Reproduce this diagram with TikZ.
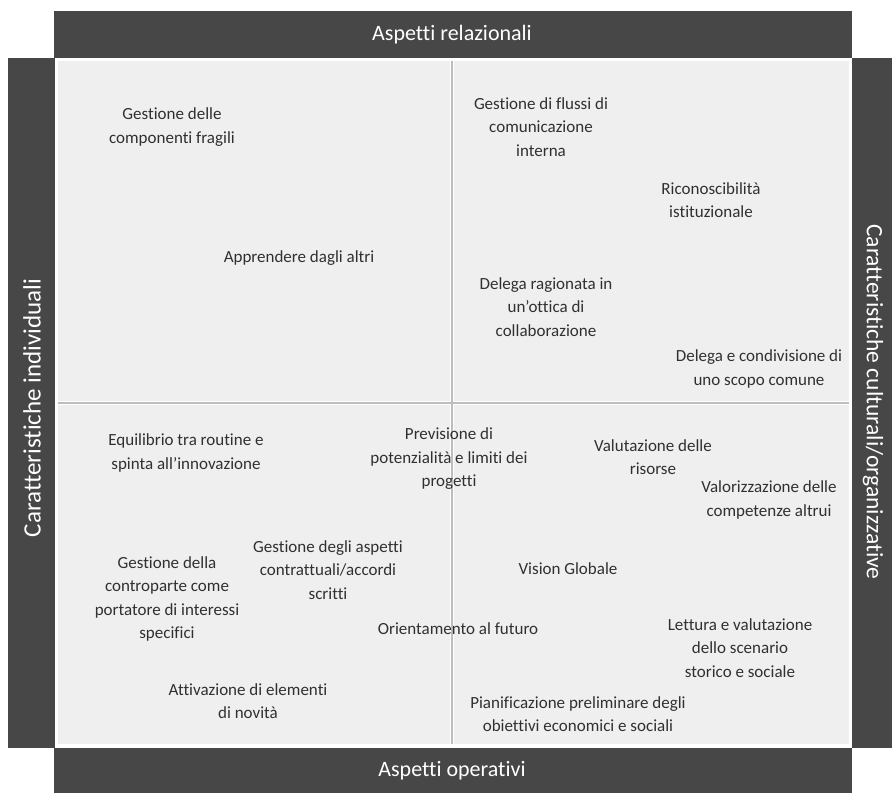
\documentclass[tikz,border=0pt]{standalone}
\usepackage{fontspec}
\setmainfont{Carlito}[Ligatures={TeX,NoCommon}]
\definecolor{barc}{HTML}{474747}
\definecolor{panelc}{HTML}{EFEFEF}
\definecolor{linec}{HTML}{BDBDBD}
\definecolor{txtc}{HTML}{303030}
\begin{document}
\begin{tikzpicture}[x=1pt,y=-1pt,
  bar/.style={fill=barc,draw=none},
  hdr/.style={text=white,font=\fontsize{22}{26}\selectfont,inner sep=0pt},
  lbl/.style={text=txtc,align=center,font=\fontsize{17}{23.5}\selectfont,inner sep=0pt}]
\useasboundingbox[fill=white] (0,0) rectangle (892,793);
% bars
\fill[bar] (54,11) rectangle (852,58);
\fill[bar] (8,58) rectangle (55,748);
\fill[bar] (852,58) rectangle (892,748);
\fill[bar] (54,748) rectangle (852,793);
% panel
\fill[panelc,draw=white,line width=1.5pt] (57,60) rectangle (850,745);
% dividers
\draw[white,line width=4pt] (452,61) -- (452,744);
\draw[white,line width=4pt] (58,403) -- (849,403);
\draw[linec,line width=1.6pt] (452,61) -- (452,744);
\draw[linec,line width=1.6pt] (58,403) -- (849,403);
% headers
\node[hdr] (top) at (452,35) {Aspetti relazionali};
\node[hdr] (bot) at (452,771) {Aspetti operativi};
\node[hdr,rotate=90,font=\fontsize{25}{28}\selectfont] (left) at (32,408) {Caratteristiche individuali};
\node[hdr,rotate=-90,font=\fontsize{23.5}{27}\selectfont] (right) at (873,402) {Caratteristiche culturali/organizzative};
% labels
\node[lbl] (l1) at (172,127) {Gestione delle\\componenti fragili};
\node[lbl] (l2) at (541,127) {Gestione di flussi di\\comunicazione\\interna};
\node[lbl] (l3) at (711,200) {Riconoscibilità\\istituzionale};
\node[lbl] (l4) at (299,258) {Apprendere dagli altri};
\node[lbl] (l5) at (546,307) {Delega ragionata in\\un’ottica di\\collaborazione};
\node[lbl] (l6) at (759,369) {Delega e condivisione di\\uno scopo comune};
\node[lbl] (l7) at (186,453) {Equilibrio tra routine e\\spinta all’innovazione};
\node[lbl] (l8) at (449,459) {Previsione di\\potenzialità e limiti dei\\progetti};
\node[lbl] (l9) at (653,457) {Valutazione delle\\risorse};
\node[lbl] (l10) at (769,500) {Valorizzazione delle\\competenze altrui};
\node[lbl] (l11) at (328,570) {Gestione degli aspetti\\contrattuali/accordi\\scritti};
\node[lbl] (l12) at (167,599) {Gestione della\\controparte come\\portatore di interessi\\specifici};
\node[lbl] (l13) at (568,569) {Vision Globale};
\node[lbl] (l14) at (458,629) {Orientamento al futuro};
\node[lbl] (l15) at (740,648) {Lettura e valutazione\\dello scenario\\storico e sociale};
\node[lbl] (l16) at (248,701) {Attivazione di elementi\\di novità};
\node[lbl] (l17) at (578,714) {Pianificazione preliminare degli\\obiettivi economici e sociali};
\end{tikzpicture}
\end{document}
